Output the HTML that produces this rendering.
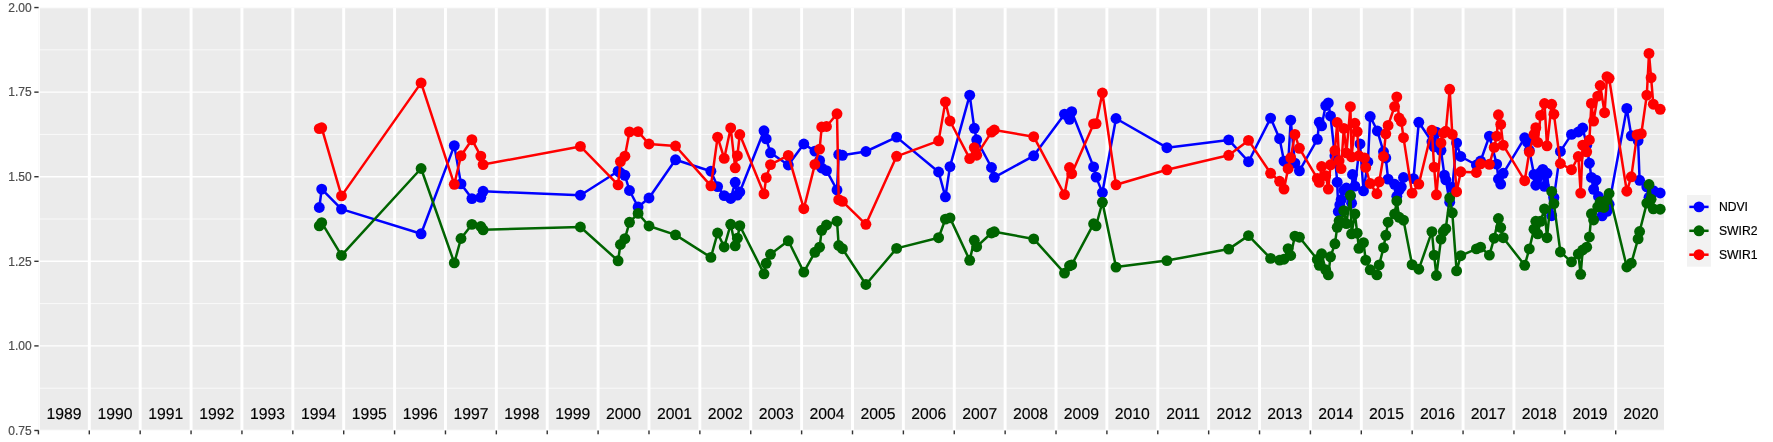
<!DOCTYPE html>
<html><head><meta charset="utf-8"><title>chart</title>
<style>
html,body{margin:0;padding:0;background:#fff;}
body{width:1773px;height:442px;overflow:hidden;font-family:"Liberation Sans",sans-serif;}
svg{display:block}
text{font-family:"Liberation Sans",sans-serif;}
</style></head><body>
<svg width="1773" height="442" viewBox="0 0 1773 442" style="position:absolute;left:0;top:0">
<rect x="0" y="0" width="1773" height="442" fill="#ffffff"/>
<defs><clipPath id="pc"><rect x="38.6" y="7.55" width="1625.4" height="422.9"/></clipPath></defs>
<rect x="38.6" y="7.55" width="1625.4" height="422.9" fill="#EBEBEB"/>
<g clip-path="url(#pc)">
<line x1="38.6" x2="1664.0" y1="49.84" y2="49.84" stroke="#fff" stroke-width="0.71"/>
<line x1="38.6" x2="1664.0" y1="134.43" y2="134.43" stroke="#fff" stroke-width="0.71"/>
<line x1="38.6" x2="1664.0" y1="219.02" y2="219.02" stroke="#fff" stroke-width="0.71"/>
<line x1="38.6" x2="1664.0" y1="303.61" y2="303.61" stroke="#fff" stroke-width="0.71"/>
<line x1="38.6" x2="1664.0" y1="388.19" y2="388.19" stroke="#fff" stroke-width="0.71"/>
<line x1="38.6" x2="1664.0" y1="7.55" y2="7.55" stroke="#fff" stroke-width="1.42"/>
<line x1="38.6" x2="1664.0" y1="92.14" y2="92.14" stroke="#fff" stroke-width="1.42"/>
<line x1="38.6" x2="1664.0" y1="176.73" y2="176.73" stroke="#fff" stroke-width="1.42"/>
<line x1="38.6" x2="1664.0" y1="261.31" y2="261.31" stroke="#fff" stroke-width="1.42"/>
<line x1="38.6" x2="1664.0" y1="345.90" y2="345.90" stroke="#fff" stroke-width="1.42"/>
<line x1="38.6" x2="1664.0" y1="430.49" y2="430.49" stroke="#fff" stroke-width="1.42"/>
<line x1="38.42" x2="38.42" y1="7.55" y2="430.45" stroke="#fff" stroke-width="2.95"/>
<line x1="89.30" x2="89.30" y1="7.55" y2="430.45" stroke="#fff" stroke-width="2.95"/>
<line x1="140.18" x2="140.18" y1="7.55" y2="430.45" stroke="#fff" stroke-width="2.95"/>
<line x1="191.06" x2="191.06" y1="7.55" y2="430.45" stroke="#fff" stroke-width="2.95"/>
<line x1="241.94" x2="241.94" y1="7.55" y2="430.45" stroke="#fff" stroke-width="2.95"/>
<line x1="292.82" x2="292.82" y1="7.55" y2="430.45" stroke="#fff" stroke-width="2.95"/>
<line x1="343.70" x2="343.70" y1="7.55" y2="430.45" stroke="#fff" stroke-width="2.95"/>
<line x1="394.58" x2="394.58" y1="7.55" y2="430.45" stroke="#fff" stroke-width="2.95"/>
<line x1="445.46" x2="445.46" y1="7.55" y2="430.45" stroke="#fff" stroke-width="2.95"/>
<line x1="496.34" x2="496.34" y1="7.55" y2="430.45" stroke="#fff" stroke-width="2.95"/>
<line x1="547.22" x2="547.22" y1="7.55" y2="430.45" stroke="#fff" stroke-width="2.95"/>
<line x1="598.10" x2="598.10" y1="7.55" y2="430.45" stroke="#fff" stroke-width="2.95"/>
<line x1="648.98" x2="648.98" y1="7.55" y2="430.45" stroke="#fff" stroke-width="2.95"/>
<line x1="699.86" x2="699.86" y1="7.55" y2="430.45" stroke="#fff" stroke-width="2.95"/>
<line x1="750.74" x2="750.74" y1="7.55" y2="430.45" stroke="#fff" stroke-width="2.95"/>
<line x1="801.62" x2="801.62" y1="7.55" y2="430.45" stroke="#fff" stroke-width="2.95"/>
<line x1="852.50" x2="852.50" y1="7.55" y2="430.45" stroke="#fff" stroke-width="2.95"/>
<line x1="903.38" x2="903.38" y1="7.55" y2="430.45" stroke="#fff" stroke-width="2.95"/>
<line x1="954.26" x2="954.26" y1="7.55" y2="430.45" stroke="#fff" stroke-width="2.95"/>
<line x1="1005.14" x2="1005.14" y1="7.55" y2="430.45" stroke="#fff" stroke-width="2.95"/>
<line x1="1056.02" x2="1056.02" y1="7.55" y2="430.45" stroke="#fff" stroke-width="2.95"/>
<line x1="1106.90" x2="1106.90" y1="7.55" y2="430.45" stroke="#fff" stroke-width="2.95"/>
<line x1="1157.78" x2="1157.78" y1="7.55" y2="430.45" stroke="#fff" stroke-width="2.95"/>
<line x1="1208.66" x2="1208.66" y1="7.55" y2="430.45" stroke="#fff" stroke-width="2.95"/>
<line x1="1259.54" x2="1259.54" y1="7.55" y2="430.45" stroke="#fff" stroke-width="2.95"/>
<line x1="1310.42" x2="1310.42" y1="7.55" y2="430.45" stroke="#fff" stroke-width="2.95"/>
<line x1="1361.30" x2="1361.30" y1="7.55" y2="430.45" stroke="#fff" stroke-width="2.95"/>
<line x1="1412.18" x2="1412.18" y1="7.55" y2="430.45" stroke="#fff" stroke-width="2.95"/>
<line x1="1463.06" x2="1463.06" y1="7.55" y2="430.45" stroke="#fff" stroke-width="2.95"/>
<line x1="1513.94" x2="1513.94" y1="7.55" y2="430.45" stroke="#fff" stroke-width="2.95"/>
<line x1="1564.82" x2="1564.82" y1="7.55" y2="430.45" stroke="#fff" stroke-width="2.95"/>
<line x1="1615.70" x2="1615.70" y1="7.55" y2="430.45" stroke="#fff" stroke-width="2.95"/>
</g>
<polyline points="319.3,207.5 321.7,189.1 341.5,209.1 421.1,233.8 454.3,145.6 461.0,183.9 471.9,198.6 480.8,197.3 483.1,191.3 580.4,195.2 618.1,171.2 620.4,172.8 624.9,175.3 629.5,190.5 638.1,207.0 649.0,198.0 675.5,159.8 710.9,171.2 717.6,186.6 724.2,195.6 730.7,198.5 735.2,182.3 737.4,195.1 739.8,192.0 764.0,130.8 766.2,138.9 770.5,152.8 788.3,165.0 803.8,144.0 814.9,151.1 819.6,160.4 821.7,168.0 826.5,170.6 837.0,190.0 838.7,154.5 842.4,155.3 865.9,151.5 896.6,137.1 938.6,172.0 945.4,196.8 950.0,166.6 969.7,95.2 974.3,128.3 976.7,139.8 991.5,167.5 994.3,177.3 1033.7,155.8 1064.5,114.2 1069.5,119.3 1071.7,111.7 1093.6,166.9 1096.1,177.1 1102.4,192.6 1116.0,118.5 1166.9,147.7 1228.7,139.9 1248.5,161.7 1270.6,118.1 1279.6,138.7 1284.0,161.1 1288.1,165.3 1290.7,120.2 1294.9,163.1 1299.4,170.8 1317.3,139.3 1319.3,122.2 1321.6,125.9 1325.7,105.6 1328.3,102.9 1330.5,116.0 1334.9,155.8 1337.2,182.2 1338.3,211.5 1339.8,204.8 1341.1,199.8 1343.8,190.3 1346.4,188.0 1350.4,196.3 1351.6,203.2 1352.5,174.5 1354.9,186.1 1360.0,143.9 1363.5,190.9 1367.9,162.0 1370.2,116.5 1377.4,131.0 1383.5,151.8 1385.8,158.0 1388.1,179.1 1394.6,184.3 1396.8,196.3 1399.1,190.1 1401.3,186.8 1403.5,177.5 1413.5,178.6 1418.8,122.3 1431.9,141.8 1434.1,146.8 1436.4,132.1 1441.0,150.3 1444.4,175.1 1445.8,179.8 1449.7,202.2 1452.3,187.3 1456.6,142.9 1460.8,156.5 1476.4,165.0 1480.6,161.0 1489.4,136.1 1496.7,164.1 1498.4,179.0 1500.7,184.1 1503.2,173.3 1524.7,137.8 1527.6,142.4 1529.3,150.3 1534.0,174.4 1535.8,185.2 1537.7,178.3 1540.6,172.3 1542.8,169.4 1544.5,186.3 1547.0,173.3 1551.7,215.7 1553.9,197.6 1560.4,151.4 1571.5,134.4 1578.3,132.0 1582.7,128.0 1586.7,145.3 1589.4,163.2 1591.4,177.4 1593.6,189.3 1596.1,180.1 1598.5,196.5 1602.1,215.8 1607.0,211.3 1609.1,204.3 1626.8,108.4 1631.3,135.8 1638.1,140.6 1639.6,180.3 1646.8,186.8 1649.0,197.3 1651.1,195.3 1653.3,190.6 1660.2,193.0" fill="none" stroke="#0000FF" stroke-width="2.5" stroke-linejoin="round" stroke-linecap="butt"/>
<g fill="#0000FF"><circle cx="319.3" cy="207.5" r="5.45"/><circle cx="321.7" cy="189.1" r="5.45"/><circle cx="341.5" cy="209.1" r="5.45"/><circle cx="421.1" cy="233.8" r="5.45"/><circle cx="454.3" cy="145.6" r="5.45"/><circle cx="461.0" cy="183.9" r="5.45"/><circle cx="471.9" cy="198.6" r="5.45"/><circle cx="480.8" cy="197.3" r="5.45"/><circle cx="483.1" cy="191.3" r="5.45"/><circle cx="580.4" cy="195.2" r="5.45"/><circle cx="618.1" cy="171.2" r="5.45"/><circle cx="620.4" cy="172.8" r="5.45"/><circle cx="624.9" cy="175.3" r="5.45"/><circle cx="629.5" cy="190.5" r="5.45"/><circle cx="638.1" cy="207.0" r="5.45"/><circle cx="649.0" cy="198.0" r="5.45"/><circle cx="675.5" cy="159.8" r="5.45"/><circle cx="710.9" cy="171.2" r="5.45"/><circle cx="717.6" cy="186.6" r="5.45"/><circle cx="724.2" cy="195.6" r="5.45"/><circle cx="730.7" cy="198.5" r="5.45"/><circle cx="735.2" cy="182.3" r="5.45"/><circle cx="737.4" cy="195.1" r="5.45"/><circle cx="739.8" cy="192.0" r="5.45"/><circle cx="764.0" cy="130.8" r="5.45"/><circle cx="766.2" cy="138.9" r="5.45"/><circle cx="770.5" cy="152.8" r="5.45"/><circle cx="788.3" cy="165.0" r="5.45"/><circle cx="803.8" cy="144.0" r="5.45"/><circle cx="814.9" cy="151.1" r="5.45"/><circle cx="819.6" cy="160.4" r="5.45"/><circle cx="821.7" cy="168.0" r="5.45"/><circle cx="826.5" cy="170.6" r="5.45"/><circle cx="837.0" cy="190.0" r="5.45"/><circle cx="838.7" cy="154.5" r="5.45"/><circle cx="842.4" cy="155.3" r="5.45"/><circle cx="865.9" cy="151.5" r="5.45"/><circle cx="896.6" cy="137.1" r="5.45"/><circle cx="938.6" cy="172.0" r="5.45"/><circle cx="945.4" cy="196.8" r="5.45"/><circle cx="950.0" cy="166.6" r="5.45"/><circle cx="969.7" cy="95.2" r="5.45"/><circle cx="974.3" cy="128.3" r="5.45"/><circle cx="976.7" cy="139.8" r="5.45"/><circle cx="991.5" cy="167.5" r="5.45"/><circle cx="994.3" cy="177.3" r="5.45"/><circle cx="1033.7" cy="155.8" r="5.45"/><circle cx="1064.5" cy="114.2" r="5.45"/><circle cx="1069.5" cy="119.3" r="5.45"/><circle cx="1071.7" cy="111.7" r="5.45"/><circle cx="1093.6" cy="166.9" r="5.45"/><circle cx="1096.1" cy="177.1" r="5.45"/><circle cx="1102.4" cy="192.6" r="5.45"/><circle cx="1116.0" cy="118.5" r="5.45"/><circle cx="1166.9" cy="147.7" r="5.45"/><circle cx="1228.7" cy="139.9" r="5.45"/><circle cx="1248.5" cy="161.7" r="5.45"/><circle cx="1270.6" cy="118.1" r="5.45"/><circle cx="1279.6" cy="138.7" r="5.45"/><circle cx="1284.0" cy="161.1" r="5.45"/><circle cx="1288.1" cy="165.3" r="5.45"/><circle cx="1290.7" cy="120.2" r="5.45"/><circle cx="1294.9" cy="163.1" r="5.45"/><circle cx="1299.4" cy="170.8" r="5.45"/><circle cx="1317.3" cy="139.3" r="5.45"/><circle cx="1319.3" cy="122.2" r="5.45"/><circle cx="1321.6" cy="125.9" r="5.45"/><circle cx="1325.7" cy="105.6" r="5.45"/><circle cx="1328.3" cy="102.9" r="5.45"/><circle cx="1330.5" cy="116.0" r="5.45"/><circle cx="1334.9" cy="155.8" r="5.45"/><circle cx="1337.2" cy="182.2" r="5.45"/><circle cx="1338.3" cy="211.5" r="5.45"/><circle cx="1339.8" cy="204.8" r="5.45"/><circle cx="1341.1" cy="199.8" r="5.45"/><circle cx="1343.8" cy="190.3" r="5.45"/><circle cx="1346.4" cy="188.0" r="5.45"/><circle cx="1350.4" cy="196.3" r="5.45"/><circle cx="1351.6" cy="203.2" r="5.45"/><circle cx="1352.5" cy="174.5" r="5.45"/><circle cx="1354.9" cy="186.1" r="5.45"/><circle cx="1360.0" cy="143.9" r="5.45"/><circle cx="1363.5" cy="190.9" r="5.45"/><circle cx="1367.9" cy="162.0" r="5.45"/><circle cx="1370.2" cy="116.5" r="5.45"/><circle cx="1377.4" cy="131.0" r="5.45"/><circle cx="1383.5" cy="151.8" r="5.45"/><circle cx="1385.8" cy="158.0" r="5.45"/><circle cx="1388.1" cy="179.1" r="5.45"/><circle cx="1394.6" cy="184.3" r="5.45"/><circle cx="1396.8" cy="196.3" r="5.45"/><circle cx="1399.1" cy="190.1" r="5.45"/><circle cx="1401.3" cy="186.8" r="5.45"/><circle cx="1403.5" cy="177.5" r="5.45"/><circle cx="1413.5" cy="178.6" r="5.45"/><circle cx="1418.8" cy="122.3" r="5.45"/><circle cx="1431.9" cy="141.8" r="5.45"/><circle cx="1434.1" cy="146.8" r="5.45"/><circle cx="1436.4" cy="132.1" r="5.45"/><circle cx="1441.0" cy="150.3" r="5.45"/><circle cx="1444.4" cy="175.1" r="5.45"/><circle cx="1445.8" cy="179.8" r="5.45"/><circle cx="1449.7" cy="202.2" r="5.45"/><circle cx="1452.3" cy="187.3" r="5.45"/><circle cx="1456.6" cy="142.9" r="5.45"/><circle cx="1460.8" cy="156.5" r="5.45"/><circle cx="1476.4" cy="165.0" r="5.45"/><circle cx="1480.6" cy="161.0" r="5.45"/><circle cx="1489.4" cy="136.1" r="5.45"/><circle cx="1496.7" cy="164.1" r="5.45"/><circle cx="1498.4" cy="179.0" r="5.45"/><circle cx="1500.7" cy="184.1" r="5.45"/><circle cx="1503.2" cy="173.3" r="5.45"/><circle cx="1524.7" cy="137.8" r="5.45"/><circle cx="1527.6" cy="142.4" r="5.45"/><circle cx="1529.3" cy="150.3" r="5.45"/><circle cx="1534.0" cy="174.4" r="5.45"/><circle cx="1535.8" cy="185.2" r="5.45"/><circle cx="1537.7" cy="178.3" r="5.45"/><circle cx="1540.6" cy="172.3" r="5.45"/><circle cx="1542.8" cy="169.4" r="5.45"/><circle cx="1544.5" cy="186.3" r="5.45"/><circle cx="1547.0" cy="173.3" r="5.45"/><circle cx="1551.7" cy="215.7" r="5.45"/><circle cx="1553.9" cy="197.6" r="5.45"/><circle cx="1560.4" cy="151.4" r="5.45"/><circle cx="1571.5" cy="134.4" r="5.45"/><circle cx="1578.3" cy="132.0" r="5.45"/><circle cx="1582.7" cy="128.0" r="5.45"/><circle cx="1586.7" cy="145.3" r="5.45"/><circle cx="1589.4" cy="163.2" r="5.45"/><circle cx="1591.4" cy="177.4" r="5.45"/><circle cx="1593.6" cy="189.3" r="5.45"/><circle cx="1596.1" cy="180.1" r="5.45"/><circle cx="1598.5" cy="196.5" r="5.45"/><circle cx="1602.1" cy="215.8" r="5.45"/><circle cx="1607.0" cy="211.3" r="5.45"/><circle cx="1609.1" cy="204.3" r="5.45"/><circle cx="1626.8" cy="108.4" r="5.45"/><circle cx="1631.3" cy="135.8" r="5.45"/><circle cx="1638.1" cy="140.6" r="5.45"/><circle cx="1639.6" cy="180.3" r="5.45"/><circle cx="1646.8" cy="186.8" r="5.45"/><circle cx="1649.0" cy="197.3" r="5.45"/><circle cx="1651.1" cy="195.3" r="5.45"/><circle cx="1653.3" cy="190.6" r="5.45"/><circle cx="1660.2" cy="193.0" r="5.45"/></g>
<polyline points="319.3,225.8 321.7,222.7 341.5,255.4 421.1,168.5 454.3,262.9 461.0,238.5 471.9,224.4 480.8,226.5 483.1,229.8 580.4,227.0 618.1,260.8 620.4,244.5 624.9,238.7 629.5,222.3 638.1,213.4 649.0,226.0 675.5,234.9 710.9,257.4 717.6,233.0 724.2,247.0 730.7,224.3 735.2,245.8 737.4,238.2 739.8,225.7 764.0,273.8 766.2,263.3 770.5,254.3 788.3,240.8 803.8,272.1 814.9,252.3 819.6,247.2 821.7,230.3 826.5,225.0 837.0,221.2 838.7,245.5 842.4,248.7 865.9,284.5 896.6,248.4 938.6,237.7 945.4,219.1 950.0,217.9 969.7,260.3 974.3,240.3 976.7,246.7 991.5,233.0 994.3,231.8 1033.7,238.9 1064.5,273.1 1069.5,265.8 1071.7,264.9 1093.6,223.8 1096.1,225.8 1102.4,202.3 1116.0,267.1 1166.9,260.6 1228.7,249.1 1248.5,235.6 1270.6,258.4 1279.6,260.1 1284.0,259.2 1288.1,248.6 1290.7,255.5 1294.9,236.1 1299.4,237.2 1317.3,259.4 1319.3,265.3 1321.6,253.8 1325.7,269.8 1328.3,274.9 1330.5,256.8 1334.9,243.8 1337.2,227.3 1339.1,220.8 1341.1,222.3 1343.8,210.6 1346.4,223.6 1350.4,195.3 1351.6,233.8 1354.9,213.9 1357.2,233.2 1358.9,248.3 1363.5,242.7 1365.7,260.2 1370.2,269.8 1376.9,274.9 1379.2,264.9 1383.5,247.7 1385.8,235.3 1388.1,222.2 1394.6,214.0 1396.8,200.9 1399.1,217.3 1403.5,220.2 1412.1,264.7 1418.8,269.2 1431.9,231.6 1434.1,255.1 1436.4,275.5 1441.0,239.1 1443.3,231.5 1445.8,228.7 1449.7,197.8 1452.3,212.8 1456.6,270.9 1460.8,255.7 1476.4,248.9 1480.6,247.2 1489.4,255.1 1494.2,238.2 1498.4,218.5 1500.7,227.5 1503.2,237.7 1524.7,265.3 1529.3,248.9 1534.0,229.2 1535.8,221.3 1537.7,233.8 1540.6,221.3 1544.5,208.9 1547.0,237.7 1551.7,191.4 1553.9,203.6 1560.4,252.0 1571.5,261.9 1578.3,254.0 1580.7,274.3 1582.7,250.0 1586.7,247.2 1589.4,237.0 1591.4,213.8 1593.6,220.0 1597.7,206.8 1600.2,201.8 1602.1,206.6 1603.9,207.5 1607.0,199.8 1609.1,193.5 1626.8,267.0 1631.3,263.2 1638.1,238.9 1639.6,231.5 1646.8,203.1 1649.0,184.5 1651.1,199.3 1653.3,208.9 1660.2,209.2" fill="none" stroke="#006400" stroke-width="2.5" stroke-linejoin="round" stroke-linecap="butt"/>
<g fill="#006400"><circle cx="319.3" cy="225.8" r="5.45"/><circle cx="321.7" cy="222.7" r="5.45"/><circle cx="341.5" cy="255.4" r="5.45"/><circle cx="421.1" cy="168.5" r="5.45"/><circle cx="454.3" cy="262.9" r="5.45"/><circle cx="461.0" cy="238.5" r="5.45"/><circle cx="471.9" cy="224.4" r="5.45"/><circle cx="480.8" cy="226.5" r="5.45"/><circle cx="483.1" cy="229.8" r="5.45"/><circle cx="580.4" cy="227.0" r="5.45"/><circle cx="618.1" cy="260.8" r="5.45"/><circle cx="620.4" cy="244.5" r="5.45"/><circle cx="624.9" cy="238.7" r="5.45"/><circle cx="629.5" cy="222.3" r="5.45"/><circle cx="638.1" cy="213.4" r="5.45"/><circle cx="649.0" cy="226.0" r="5.45"/><circle cx="675.5" cy="234.9" r="5.45"/><circle cx="710.9" cy="257.4" r="5.45"/><circle cx="717.6" cy="233.0" r="5.45"/><circle cx="724.2" cy="247.0" r="5.45"/><circle cx="730.7" cy="224.3" r="5.45"/><circle cx="735.2" cy="245.8" r="5.45"/><circle cx="737.4" cy="238.2" r="5.45"/><circle cx="739.8" cy="225.7" r="5.45"/><circle cx="764.0" cy="273.8" r="5.45"/><circle cx="766.2" cy="263.3" r="5.45"/><circle cx="770.5" cy="254.3" r="5.45"/><circle cx="788.3" cy="240.8" r="5.45"/><circle cx="803.8" cy="272.1" r="5.45"/><circle cx="814.9" cy="252.3" r="5.45"/><circle cx="819.6" cy="247.2" r="5.45"/><circle cx="821.7" cy="230.3" r="5.45"/><circle cx="826.5" cy="225.0" r="5.45"/><circle cx="837.0" cy="221.2" r="5.45"/><circle cx="838.7" cy="245.5" r="5.45"/><circle cx="842.4" cy="248.7" r="5.45"/><circle cx="865.9" cy="284.5" r="5.45"/><circle cx="896.6" cy="248.4" r="5.45"/><circle cx="938.6" cy="237.7" r="5.45"/><circle cx="945.4" cy="219.1" r="5.45"/><circle cx="950.0" cy="217.9" r="5.45"/><circle cx="969.7" cy="260.3" r="5.45"/><circle cx="974.3" cy="240.3" r="5.45"/><circle cx="976.7" cy="246.7" r="5.45"/><circle cx="991.5" cy="233.0" r="5.45"/><circle cx="994.3" cy="231.8" r="5.45"/><circle cx="1033.7" cy="238.9" r="5.45"/><circle cx="1064.5" cy="273.1" r="5.45"/><circle cx="1069.5" cy="265.8" r="5.45"/><circle cx="1071.7" cy="264.9" r="5.45"/><circle cx="1093.6" cy="223.8" r="5.45"/><circle cx="1096.1" cy="225.8" r="5.45"/><circle cx="1102.4" cy="202.3" r="5.45"/><circle cx="1116.0" cy="267.1" r="5.45"/><circle cx="1166.9" cy="260.6" r="5.45"/><circle cx="1228.7" cy="249.1" r="5.45"/><circle cx="1248.5" cy="235.6" r="5.45"/><circle cx="1270.6" cy="258.4" r="5.45"/><circle cx="1279.6" cy="260.1" r="5.45"/><circle cx="1284.0" cy="259.2" r="5.45"/><circle cx="1288.1" cy="248.6" r="5.45"/><circle cx="1290.7" cy="255.5" r="5.45"/><circle cx="1294.9" cy="236.1" r="5.45"/><circle cx="1299.4" cy="237.2" r="5.45"/><circle cx="1317.3" cy="259.4" r="5.45"/><circle cx="1319.3" cy="265.3" r="5.45"/><circle cx="1321.6" cy="253.8" r="5.45"/><circle cx="1325.7" cy="269.8" r="5.45"/><circle cx="1328.3" cy="274.9" r="5.45"/><circle cx="1330.5" cy="256.8" r="5.45"/><circle cx="1334.9" cy="243.8" r="5.45"/><circle cx="1337.2" cy="227.3" r="5.45"/><circle cx="1339.1" cy="220.8" r="5.45"/><circle cx="1341.1" cy="222.3" r="5.45"/><circle cx="1343.8" cy="210.6" r="5.45"/><circle cx="1346.4" cy="223.6" r="5.45"/><circle cx="1350.4" cy="195.3" r="5.45"/><circle cx="1351.6" cy="233.8" r="5.45"/><circle cx="1354.9" cy="213.9" r="5.45"/><circle cx="1357.2" cy="233.2" r="5.45"/><circle cx="1358.9" cy="248.3" r="5.45"/><circle cx="1363.5" cy="242.7" r="5.45"/><circle cx="1365.7" cy="260.2" r="5.45"/><circle cx="1370.2" cy="269.8" r="5.45"/><circle cx="1376.9" cy="274.9" r="5.45"/><circle cx="1379.2" cy="264.9" r="5.45"/><circle cx="1383.5" cy="247.7" r="5.45"/><circle cx="1385.8" cy="235.3" r="5.45"/><circle cx="1388.1" cy="222.2" r="5.45"/><circle cx="1394.6" cy="214.0" r="5.45"/><circle cx="1396.8" cy="200.9" r="5.45"/><circle cx="1399.1" cy="217.3" r="5.45"/><circle cx="1403.5" cy="220.2" r="5.45"/><circle cx="1412.1" cy="264.7" r="5.45"/><circle cx="1418.8" cy="269.2" r="5.45"/><circle cx="1431.9" cy="231.6" r="5.45"/><circle cx="1434.1" cy="255.1" r="5.45"/><circle cx="1436.4" cy="275.5" r="5.45"/><circle cx="1441.0" cy="239.1" r="5.45"/><circle cx="1443.3" cy="231.5" r="5.45"/><circle cx="1445.8" cy="228.7" r="5.45"/><circle cx="1449.7" cy="197.8" r="5.45"/><circle cx="1452.3" cy="212.8" r="5.45"/><circle cx="1456.6" cy="270.9" r="5.45"/><circle cx="1460.8" cy="255.7" r="5.45"/><circle cx="1476.4" cy="248.9" r="5.45"/><circle cx="1480.6" cy="247.2" r="5.45"/><circle cx="1489.4" cy="255.1" r="5.45"/><circle cx="1494.2" cy="238.2" r="5.45"/><circle cx="1498.4" cy="218.5" r="5.45"/><circle cx="1500.7" cy="227.5" r="5.45"/><circle cx="1503.2" cy="237.7" r="5.45"/><circle cx="1524.7" cy="265.3" r="5.45"/><circle cx="1529.3" cy="248.9" r="5.45"/><circle cx="1534.0" cy="229.2" r="5.45"/><circle cx="1535.8" cy="221.3" r="5.45"/><circle cx="1537.7" cy="233.8" r="5.45"/><circle cx="1540.6" cy="221.3" r="5.45"/><circle cx="1544.5" cy="208.9" r="5.45"/><circle cx="1547.0" cy="237.7" r="5.45"/><circle cx="1551.7" cy="191.4" r="5.45"/><circle cx="1553.9" cy="203.6" r="5.45"/><circle cx="1560.4" cy="252.0" r="5.45"/><circle cx="1571.5" cy="261.9" r="5.45"/><circle cx="1578.3" cy="254.0" r="5.45"/><circle cx="1580.7" cy="274.3" r="5.45"/><circle cx="1582.7" cy="250.0" r="5.45"/><circle cx="1586.7" cy="247.2" r="5.45"/><circle cx="1589.4" cy="237.0" r="5.45"/><circle cx="1591.4" cy="213.8" r="5.45"/><circle cx="1593.6" cy="220.0" r="5.45"/><circle cx="1597.7" cy="206.8" r="5.45"/><circle cx="1600.2" cy="201.8" r="5.45"/><circle cx="1602.1" cy="206.6" r="5.45"/><circle cx="1603.9" cy="207.5" r="5.45"/><circle cx="1607.0" cy="199.8" r="5.45"/><circle cx="1609.1" cy="193.5" r="5.45"/><circle cx="1626.8" cy="267.0" r="5.45"/><circle cx="1631.3" cy="263.2" r="5.45"/><circle cx="1638.1" cy="238.9" r="5.45"/><circle cx="1639.6" cy="231.5" r="5.45"/><circle cx="1646.8" cy="203.1" r="5.45"/><circle cx="1649.0" cy="184.5" r="5.45"/><circle cx="1651.1" cy="199.3" r="5.45"/><circle cx="1653.3" cy="208.9" r="5.45"/><circle cx="1660.2" cy="209.2" r="5.45"/></g>
<polyline points="319.3,128.6 321.7,127.8 341.5,195.9 421.1,82.9 454.3,184.3 461.0,155.8 471.9,139.7 480.8,156.1 483.1,164.6 580.4,146.4 618.1,184.9 620.4,161.6 624.9,156.2 629.5,131.9 638.1,131.6 649.0,144.0 675.5,146.0 710.9,185.8 717.6,137.2 724.2,158.4 730.7,127.9 735.2,167.8 737.4,155.7 739.8,134.5 764.0,193.9 766.2,177.6 770.5,164.6 788.3,155.4 803.8,208.7 814.9,164.4 819.6,149.1 821.7,127.0 826.5,126.5 837.0,113.8 838.7,199.7 842.4,201.4 865.9,224.3 896.6,156.3 938.6,140.8 945.4,101.9 950.0,121.0 969.7,158.6 974.3,147.6 976.7,155.2 991.5,132.1 994.3,130.0 1033.7,136.7 1064.5,194.6 1069.5,167.5 1071.7,173.7 1093.6,123.9 1096.1,123.6 1102.4,93.0 1116.0,184.8 1166.9,169.8 1228.7,155.3 1248.5,140.4 1270.6,173.3 1279.6,181.3 1284.0,189.1 1288.1,168.7 1290.7,157.8 1294.9,134.4 1299.4,148.3 1317.3,178.4 1319.3,182.4 1321.6,166.5 1325.7,175.6 1328.3,189.1 1330.5,164.8 1334.9,150.5 1337.2,122.5 1339.1,160.8 1341.1,168.6 1343.8,128.4 1346.4,152.9 1350.4,106.7 1351.6,156.9 1354.9,123.3 1357.2,131.6 1358.9,155.8 1364.5,158.0 1365.7,167.4 1370.2,183.5 1376.9,193.7 1379.2,181.8 1383.5,156.5 1385.8,133.8 1388.1,125.4 1394.6,106.5 1396.8,96.9 1399.1,118.0 1401.3,121.5 1403.5,137.7 1412.1,193.1 1418.8,184.1 1431.9,130.3 1434.1,167.1 1436.4,194.8 1441.0,142.9 1443.3,133.1 1445.8,131.3 1449.7,89.3 1452.3,134.4 1456.6,191.7 1460.8,171.8 1476.4,172.5 1480.6,163.8 1489.4,164.3 1494.2,147.4 1496.7,136.1 1498.4,114.8 1500.7,124.4 1503.2,145.2 1524.7,180.7 1529.3,152.0 1534.0,134.4 1535.8,127.7 1537.7,142.4 1540.6,115.4 1544.5,103.5 1547.0,145.8 1551.7,104.3 1553.9,114.2 1560.4,163.5 1571.5,169.7 1578.3,156.5 1580.7,193.1 1582.7,145.2 1586.7,151.8 1589.4,140.0 1591.4,103.4 1593.6,121.1 1597.7,96.1 1600.2,85.5 1604.6,112.7 1607.0,76.6 1609.1,78.3 1626.8,191.2 1631.3,176.8 1637.1,134.7 1641.3,133.7 1646.8,95.1 1649.0,53.4 1651.1,77.7 1653.3,104.2 1660.2,109.3" fill="none" stroke="#FF0000" stroke-width="2.5" stroke-linejoin="round" stroke-linecap="butt"/>
<g fill="#FF0000"><circle cx="319.3" cy="128.6" r="5.45"/><circle cx="321.7" cy="127.8" r="5.45"/><circle cx="341.5" cy="195.9" r="5.45"/><circle cx="421.1" cy="82.9" r="5.45"/><circle cx="454.3" cy="184.3" r="5.45"/><circle cx="461.0" cy="155.8" r="5.45"/><circle cx="471.9" cy="139.7" r="5.45"/><circle cx="480.8" cy="156.1" r="5.45"/><circle cx="483.1" cy="164.6" r="5.45"/><circle cx="580.4" cy="146.4" r="5.45"/><circle cx="618.1" cy="184.9" r="5.45"/><circle cx="620.4" cy="161.6" r="5.45"/><circle cx="624.9" cy="156.2" r="5.45"/><circle cx="629.5" cy="131.9" r="5.45"/><circle cx="638.1" cy="131.6" r="5.45"/><circle cx="649.0" cy="144.0" r="5.45"/><circle cx="675.5" cy="146.0" r="5.45"/><circle cx="710.9" cy="185.8" r="5.45"/><circle cx="717.6" cy="137.2" r="5.45"/><circle cx="724.2" cy="158.4" r="5.45"/><circle cx="730.7" cy="127.9" r="5.45"/><circle cx="735.2" cy="167.8" r="5.45"/><circle cx="737.4" cy="155.7" r="5.45"/><circle cx="739.8" cy="134.5" r="5.45"/><circle cx="764.0" cy="193.9" r="5.45"/><circle cx="766.2" cy="177.6" r="5.45"/><circle cx="770.5" cy="164.6" r="5.45"/><circle cx="788.3" cy="155.4" r="5.45"/><circle cx="803.8" cy="208.7" r="5.45"/><circle cx="814.9" cy="164.4" r="5.45"/><circle cx="819.6" cy="149.1" r="5.45"/><circle cx="821.7" cy="127.0" r="5.45"/><circle cx="826.5" cy="126.5" r="5.45"/><circle cx="837.0" cy="113.8" r="5.45"/><circle cx="838.7" cy="199.7" r="5.45"/><circle cx="842.4" cy="201.4" r="5.45"/><circle cx="865.9" cy="224.3" r="5.45"/><circle cx="896.6" cy="156.3" r="5.45"/><circle cx="938.6" cy="140.8" r="5.45"/><circle cx="945.4" cy="101.9" r="5.45"/><circle cx="950.0" cy="121.0" r="5.45"/><circle cx="969.7" cy="158.6" r="5.45"/><circle cx="974.3" cy="147.6" r="5.45"/><circle cx="976.7" cy="155.2" r="5.45"/><circle cx="991.5" cy="132.1" r="5.45"/><circle cx="994.3" cy="130.0" r="5.45"/><circle cx="1033.7" cy="136.7" r="5.45"/><circle cx="1064.5" cy="194.6" r="5.45"/><circle cx="1069.5" cy="167.5" r="5.45"/><circle cx="1071.7" cy="173.7" r="5.45"/><circle cx="1093.6" cy="123.9" r="5.45"/><circle cx="1096.1" cy="123.6" r="5.45"/><circle cx="1102.4" cy="93.0" r="5.45"/><circle cx="1116.0" cy="184.8" r="5.45"/><circle cx="1166.9" cy="169.8" r="5.45"/><circle cx="1228.7" cy="155.3" r="5.45"/><circle cx="1248.5" cy="140.4" r="5.45"/><circle cx="1270.6" cy="173.3" r="5.45"/><circle cx="1279.6" cy="181.3" r="5.45"/><circle cx="1284.0" cy="189.1" r="5.45"/><circle cx="1288.1" cy="168.7" r="5.45"/><circle cx="1290.7" cy="157.8" r="5.45"/><circle cx="1294.9" cy="134.4" r="5.45"/><circle cx="1299.4" cy="148.3" r="5.45"/><circle cx="1317.3" cy="178.4" r="5.45"/><circle cx="1319.3" cy="182.4" r="5.45"/><circle cx="1321.6" cy="166.5" r="5.45"/><circle cx="1325.7" cy="175.6" r="5.45"/><circle cx="1328.3" cy="189.1" r="5.45"/><circle cx="1330.5" cy="164.8" r="5.45"/><circle cx="1334.9" cy="150.5" r="5.45"/><circle cx="1337.2" cy="122.5" r="5.45"/><circle cx="1339.1" cy="160.8" r="5.45"/><circle cx="1341.1" cy="168.6" r="5.45"/><circle cx="1343.8" cy="128.4" r="5.45"/><circle cx="1346.4" cy="152.9" r="5.45"/><circle cx="1350.4" cy="106.7" r="5.45"/><circle cx="1351.6" cy="156.9" r="5.45"/><circle cx="1354.9" cy="123.3" r="5.45"/><circle cx="1357.2" cy="131.6" r="5.45"/><circle cx="1358.9" cy="155.8" r="5.45"/><circle cx="1364.5" cy="158.0" r="5.45"/><circle cx="1365.7" cy="167.4" r="5.45"/><circle cx="1370.2" cy="183.5" r="5.45"/><circle cx="1376.9" cy="193.7" r="5.45"/><circle cx="1379.2" cy="181.8" r="5.45"/><circle cx="1383.5" cy="156.5" r="5.45"/><circle cx="1385.8" cy="133.8" r="5.45"/><circle cx="1388.1" cy="125.4" r="5.45"/><circle cx="1394.6" cy="106.5" r="5.45"/><circle cx="1396.8" cy="96.9" r="5.45"/><circle cx="1399.1" cy="118.0" r="5.45"/><circle cx="1401.3" cy="121.5" r="5.45"/><circle cx="1403.5" cy="137.7" r="5.45"/><circle cx="1412.1" cy="193.1" r="5.45"/><circle cx="1418.8" cy="184.1" r="5.45"/><circle cx="1431.9" cy="130.3" r="5.45"/><circle cx="1434.1" cy="167.1" r="5.45"/><circle cx="1436.4" cy="194.8" r="5.45"/><circle cx="1441.0" cy="142.9" r="5.45"/><circle cx="1443.3" cy="133.1" r="5.45"/><circle cx="1445.8" cy="131.3" r="5.45"/><circle cx="1449.7" cy="89.3" r="5.45"/><circle cx="1452.3" cy="134.4" r="5.45"/><circle cx="1456.6" cy="191.7" r="5.45"/><circle cx="1460.8" cy="171.8" r="5.45"/><circle cx="1476.4" cy="172.5" r="5.45"/><circle cx="1480.6" cy="163.8" r="5.45"/><circle cx="1489.4" cy="164.3" r="5.45"/><circle cx="1494.2" cy="147.4" r="5.45"/><circle cx="1496.7" cy="136.1" r="5.45"/><circle cx="1498.4" cy="114.8" r="5.45"/><circle cx="1500.7" cy="124.4" r="5.45"/><circle cx="1503.2" cy="145.2" r="5.45"/><circle cx="1524.7" cy="180.7" r="5.45"/><circle cx="1529.3" cy="152.0" r="5.45"/><circle cx="1534.0" cy="134.4" r="5.45"/><circle cx="1535.8" cy="127.7" r="5.45"/><circle cx="1537.7" cy="142.4" r="5.45"/><circle cx="1540.6" cy="115.4" r="5.45"/><circle cx="1544.5" cy="103.5" r="5.45"/><circle cx="1547.0" cy="145.8" r="5.45"/><circle cx="1551.7" cy="104.3" r="5.45"/><circle cx="1553.9" cy="114.2" r="5.45"/><circle cx="1560.4" cy="163.5" r="5.45"/><circle cx="1571.5" cy="169.7" r="5.45"/><circle cx="1578.3" cy="156.5" r="5.45"/><circle cx="1580.7" cy="193.1" r="5.45"/><circle cx="1582.7" cy="145.2" r="5.45"/><circle cx="1586.7" cy="151.8" r="5.45"/><circle cx="1589.4" cy="140.0" r="5.45"/><circle cx="1591.4" cy="103.4" r="5.45"/><circle cx="1593.6" cy="121.1" r="5.45"/><circle cx="1597.7" cy="96.1" r="5.45"/><circle cx="1600.2" cy="85.5" r="5.45"/><circle cx="1604.6" cy="112.7" r="5.45"/><circle cx="1607.0" cy="76.6" r="5.45"/><circle cx="1609.1" cy="78.3" r="5.45"/><circle cx="1626.8" cy="191.2" r="5.45"/><circle cx="1631.3" cy="176.8" r="5.45"/><circle cx="1637.1" cy="134.7" r="5.45"/><circle cx="1641.3" cy="133.7" r="5.45"/><circle cx="1646.8" cy="95.1" r="5.45"/><circle cx="1649.0" cy="53.4" r="5.45"/><circle cx="1651.1" cy="77.7" r="5.45"/><circle cx="1653.3" cy="104.2" r="5.45"/><circle cx="1660.2" cy="109.3" r="5.45"/></g>
<line x1="38.42" x2="38.42" y1="430.45" y2="434.34999999999997" stroke="#333" stroke-width="1.42"/>
<line x1="89.30" x2="89.30" y1="430.45" y2="434.34999999999997" stroke="#333" stroke-width="1.42"/>
<line x1="140.18" x2="140.18" y1="430.45" y2="434.34999999999997" stroke="#333" stroke-width="1.42"/>
<line x1="191.06" x2="191.06" y1="430.45" y2="434.34999999999997" stroke="#333" stroke-width="1.42"/>
<line x1="241.94" x2="241.94" y1="430.45" y2="434.34999999999997" stroke="#333" stroke-width="1.42"/>
<line x1="292.82" x2="292.82" y1="430.45" y2="434.34999999999997" stroke="#333" stroke-width="1.42"/>
<line x1="343.70" x2="343.70" y1="430.45" y2="434.34999999999997" stroke="#333" stroke-width="1.42"/>
<line x1="394.58" x2="394.58" y1="430.45" y2="434.34999999999997" stroke="#333" stroke-width="1.42"/>
<line x1="445.46" x2="445.46" y1="430.45" y2="434.34999999999997" stroke="#333" stroke-width="1.42"/>
<line x1="496.34" x2="496.34" y1="430.45" y2="434.34999999999997" stroke="#333" stroke-width="1.42"/>
<line x1="547.22" x2="547.22" y1="430.45" y2="434.34999999999997" stroke="#333" stroke-width="1.42"/>
<line x1="598.10" x2="598.10" y1="430.45" y2="434.34999999999997" stroke="#333" stroke-width="1.42"/>
<line x1="648.98" x2="648.98" y1="430.45" y2="434.34999999999997" stroke="#333" stroke-width="1.42"/>
<line x1="699.86" x2="699.86" y1="430.45" y2="434.34999999999997" stroke="#333" stroke-width="1.42"/>
<line x1="750.74" x2="750.74" y1="430.45" y2="434.34999999999997" stroke="#333" stroke-width="1.42"/>
<line x1="801.62" x2="801.62" y1="430.45" y2="434.34999999999997" stroke="#333" stroke-width="1.42"/>
<line x1="852.50" x2="852.50" y1="430.45" y2="434.34999999999997" stroke="#333" stroke-width="1.42"/>
<line x1="903.38" x2="903.38" y1="430.45" y2="434.34999999999997" stroke="#333" stroke-width="1.42"/>
<line x1="954.26" x2="954.26" y1="430.45" y2="434.34999999999997" stroke="#333" stroke-width="1.42"/>
<line x1="1005.14" x2="1005.14" y1="430.45" y2="434.34999999999997" stroke="#333" stroke-width="1.42"/>
<line x1="1056.02" x2="1056.02" y1="430.45" y2="434.34999999999997" stroke="#333" stroke-width="1.42"/>
<line x1="1106.90" x2="1106.90" y1="430.45" y2="434.34999999999997" stroke="#333" stroke-width="1.42"/>
<line x1="1157.78" x2="1157.78" y1="430.45" y2="434.34999999999997" stroke="#333" stroke-width="1.42"/>
<line x1="1208.66" x2="1208.66" y1="430.45" y2="434.34999999999997" stroke="#333" stroke-width="1.42"/>
<line x1="1259.54" x2="1259.54" y1="430.45" y2="434.34999999999997" stroke="#333" stroke-width="1.42"/>
<line x1="1310.42" x2="1310.42" y1="430.45" y2="434.34999999999997" stroke="#333" stroke-width="1.42"/>
<line x1="1361.30" x2="1361.30" y1="430.45" y2="434.34999999999997" stroke="#333" stroke-width="1.42"/>
<line x1="1412.18" x2="1412.18" y1="430.45" y2="434.34999999999997" stroke="#333" stroke-width="1.42"/>
<line x1="1463.06" x2="1463.06" y1="430.45" y2="434.34999999999997" stroke="#333" stroke-width="1.42"/>
<line x1="1513.94" x2="1513.94" y1="430.45" y2="434.34999999999997" stroke="#333" stroke-width="1.42"/>
<line x1="1564.82" x2="1564.82" y1="430.45" y2="434.34999999999997" stroke="#333" stroke-width="1.42"/>
<line x1="1615.70" x2="1615.70" y1="430.45" y2="434.34999999999997" stroke="#333" stroke-width="1.42"/>
<line x1="34.300000000000004" x2="38.6" y1="7.55" y2="7.55" stroke="#333" stroke-width="1.42"/>
<line x1="34.300000000000004" x2="38.6" y1="92.14" y2="92.14" stroke="#333" stroke-width="1.42"/>
<line x1="34.300000000000004" x2="38.6" y1="176.73" y2="176.73" stroke="#333" stroke-width="1.42"/>
<line x1="34.300000000000004" x2="38.6" y1="261.31" y2="261.31" stroke="#333" stroke-width="1.42"/>
<line x1="34.300000000000004" x2="38.6" y1="345.90" y2="345.90" stroke="#333" stroke-width="1.42"/>
<line x1="34.300000000000004" x2="38.6" y1="430.49" y2="430.49" stroke="#333" stroke-width="1.42"/>
<rect x="1687" y="195" width="23.9" height="71.7" fill="#F2F2F2"/>
<line x1="1689.3" x2="1708.6" y1="206.90" y2="206.90" stroke="#0000FF" stroke-width="2.5"/>
<circle cx="1699" cy="206.90" r="5.45" fill="#0000FF"/>
<line x1="1689.3" x2="1708.6" y1="230.80" y2="230.80" stroke="#006400" stroke-width="2.5"/>
<circle cx="1699" cy="230.80" r="5.45" fill="#006400"/>
<line x1="1689.3" x2="1708.6" y1="254.70" y2="254.70" stroke="#FF0000" stroke-width="2.5"/>
<circle cx="1699" cy="254.70" r="5.45" fill="#FF0000"/>
</svg>
<svg width="1773" height="442" viewBox="0 0 1773 442" style="position:absolute;left:0;top:0;will-change:transform">
<g font-size="15.75px" fill="#000" stroke="#000" stroke-width="0.15" text-anchor="middle" style="text-rendering:geometricPrecision">
<text x="64.11" y="419.45">1989</text>
<text x="114.97" y="419.45">1990</text>
<text x="165.84" y="419.45">1991</text>
<text x="216.70" y="419.45">1992</text>
<text x="267.57" y="419.45">1993</text>
<text x="318.43" y="419.45">1994</text>
<text x="369.29" y="419.45">1995</text>
<text x="420.16" y="419.45">1996</text>
<text x="471.02" y="419.45">1997</text>
<text x="521.89" y="419.45">1998</text>
<text x="572.75" y="419.45">1999</text>
<text x="623.61" y="419.45">2000</text>
<text x="674.48" y="419.45">2001</text>
<text x="725.34" y="419.45">2002</text>
<text x="776.21" y="419.45">2003</text>
<text x="827.07" y="419.45">2004</text>
<text x="877.93" y="419.45">2005</text>
<text x="928.80" y="419.45">2006</text>
<text x="979.66" y="419.45">2007</text>
<text x="1030.53" y="419.45">2008</text>
<text x="1081.39" y="419.45">2009</text>
<text x="1132.25" y="419.45">2010</text>
<text x="1183.12" y="419.45">2011</text>
<text x="1233.98" y="419.45">2012</text>
<text x="1284.85" y="419.45">2013</text>
<text x="1335.71" y="419.45">2014</text>
<text x="1386.57" y="419.45">2015</text>
<text x="1437.44" y="419.45">2016</text>
<text x="1488.30" y="419.45">2017</text>
<text x="1539.17" y="419.45">2018</text>
<text x="1590.03" y="419.45">2019</text>
<text x="1640.89" y="419.45">2020</text>
</g>
<g font-size="12px" fill="#4D4D4D" stroke="#4D4D4D" stroke-width="0.2" text-anchor="end">
<text x="31.6" y="11.75">2.00</text>
<text x="31.6" y="96.34">1.75</text>
<text x="31.6" y="180.93">1.50</text>
<text x="31.6" y="265.51">1.25</text>
<text x="31.6" y="350.10">1.00</text>
<text x="31.6" y="434.69">0.75</text>
</g>
<text x="1718.9" y="211.00" font-size="12.2px" fill="#000" stroke="#000" stroke-width="0.2">NDVI</text>
<text x="1718.9" y="234.90" font-size="12.2px" fill="#000" stroke="#000" stroke-width="0.2">SWIR2</text>
<text x="1718.9" y="258.80" font-size="12.2px" fill="#000" stroke="#000" stroke-width="0.2">SWIR1</text>
</svg></body></html>
